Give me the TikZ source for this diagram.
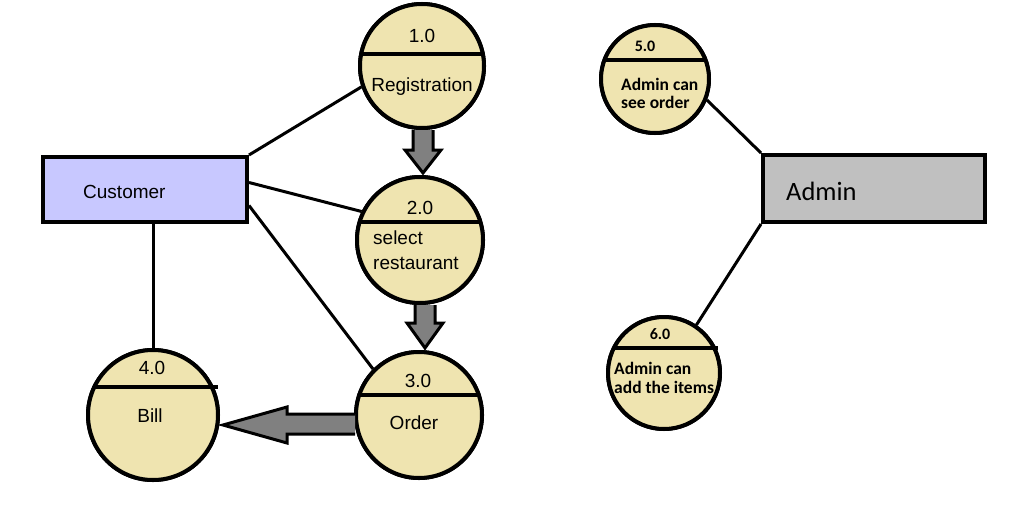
\documentclass[tikz,border=0pt]{standalone}
\usepackage{fontspec}
\setmainfont{Liberation Sans}
\newfontfamily\calib{Carlito}
\usetikzlibrary{calc}
\definecolor{procfill}{RGB}{239,228,176}
\definecolor{custfill}{RGB}{200,200,255}
\definecolor{admfill}{RGB}{192,192,192}
\definecolor{arrfill}{RGB}{128,128,128}
\tikzset{
  proc/.style={circle,draw=black,line width=4pt,fill=procfill,inner sep=0pt},
  ent/.style={draw=black,line width=4pt,inner sep=0pt},
  conn/.style={line width=3pt,draw=black},
  divider/.style={line width=4pt,draw=black},
  blockarrow/.style={fill=arrfill,draw=black,line width=3pt,line join=miter},
  ptxt/.style={font=\fontsize{19}{21}\selectfont,inner sep=0pt},
  stxt/.style={font=\calib\bfseries\fontsize{17.5}{19}\selectfont,inner sep=0pt,anchor=west},
  snum/.style={font=\calib\bfseries\fontsize{16}{18}\selectfont,inner sep=0pt},
}
\begin{document}
\begin{tikzpicture}[x=1pt,y=-1pt]
\useasboundingbox (0,0) rectangle (1017,506);
% entities
\node[ent,fill=custfill,minimum width=204pt,minimum height=65pt] (cust) at (145,189.5) {};
\node[ptxt,anchor=west] (custt) at (83,192) {Customer};
\node[ent,fill=admfill,minimum width=222pt,minimum height=67pt] (adm) at (874,188.5) {};
\node[font=\calib\fontsize{26.5}{29}\selectfont,inner sep=0pt,anchor=west] (admt) at (786,191) {Admin};
% processes
\node[proc,minimum size=124pt] (c1) at (422,66) {};
\node[proc,minimum size=126pt] (c2) at (420,240) {};
\node[proc,minimum size=126pt] (c3) at (419,415) {};
\node[proc,minimum size=130pt] (c4) at (153,415) {};
\node[proc,minimum size=108pt] (c5) at (655,79) {};
\node[proc,minimum size=112pt] (c6) at (664,373) {};
% connectors
\draw[conn] (cust.north east) -- (c1.199);
\draw[conn] ([yshift=7pt]cust.east) -- (c2.154);
\draw[conn] ([yshift=-16pt]cust.east) -- (c3.135);
\draw[conn] (cust.south -| c4.north) -- (c4.north);
\draw[conn] (adm.north west) -- (c5.-22);
\draw[conn] (adm.south west) -- (c6.56);
% redraw circles on top of connectors
\node[proc,minimum size=124pt] at (c1) {};
\node[proc,minimum size=126pt] at (c2) {};
\node[proc,minimum size=126pt] at (c3) {};
\node[proc,minimum size=130pt] at (c4) {};
\node[proc,minimum size=108pt] at (c5) {};
\node[proc,minimum size=112pt] at (c6) {};
% dividers
\draw[divider] ([xshift=-60.8pt,yshift=12pt]c1.center) -- ([xshift=60.8pt,yshift=12pt]c1.center);
\draw[divider] ([xshift=-60.4pt,yshift=18pt]c2.center) -- ([xshift=60.4pt,yshift=18pt]c2.center);
\draw[divider] ([xshift=-59.7pt,yshift=20pt]c3.center) -- ([xshift=59.7pt,yshift=20pt]c3.center);
\draw[divider] ([xshift=-59.5pt,yshift=28pt]c4.center) -- ([xshift=65pt,yshift=28pt]c4.center);
\draw[divider] ([xshift=-50.5pt,yshift=19pt]c5.center) -- ([xshift=50.5pt,yshift=19pt]c5.center);
\draw[divider] ([xshift=-50pt,yshift=25pt]c6.center) -- ([xshift=54pt,yshift=25pt]c6.center);
% block arrows
\draw[blockarrow] let \p1=(c1.south), \p2=(c2.north) in
  (\x1-9pt,\y1) -- (\x1-9pt,\y2+25pt) -- (\x1-17pt,\y2+25pt) -- (\x1+1pt,\y2+2pt)
  -- (\x1+19pt,\y2+25pt) -- (\x1+11pt,\y2+25pt) -- (\x1+11pt,\y1);
\draw[blockarrow] let \p1=(c2.south), \p2=(c3.north) in
  (\x1-5pt,\y1) -- (\x1-5pt,\y2+27pt) -- (\x1-13pt,\y2+27pt) -- (\x1+5pt,\y2+2pt)
  -- (\x1+23pt,\y2+27pt) -- (\x1+15pt,\y2+27pt) -- (\x1+15pt,\y1);
\draw[blockarrow] let \p1=(c3.west), \p2=(c4.east) in
  (\x1+1pt,\y1+1pt) -- (\x2+67pt,\y1+1pt) -- (\x2+67pt,\y1+8pt) -- (\x2+3pt,\y1-10pt)
  -- (\x2+67pt,\y1-28pt) -- (\x2+67pt,\y1-19pt) -- (\x1+1pt,\y1-19pt);
% texts
\node[ptxt] (t1a) at (422,36) {1.0};
\node[ptxt] (t1b) at (422,87) {Registration};
\node[ptxt] (t2a) at (420,208) {2.0};
\node[ptxt,anchor=west] (t2b) at (373,238) {select};
\node[ptxt,anchor=west] (t2c) at (373,263) {restaurant};
\node[ptxt] (t3a) at (418,381) {3.0};
\node[ptxt] (t3b) at (414,423) {Order};
\node[ptxt] (t4a) at (152,368) {4.0};
\node[ptxt] (t4b) at (150,416) {Bill};
\node[snum] (t5a) at (645,46) {5.0};
\node[stxt] (t5b) at (621,84) {Admin can};
\node[stxt] (t5c) at (621,102) {see order};
\node[snum] (t6a) at (660,334) {6.0};
\node[stxt] (t6b) at (614,368) {Admin can};
\node[stxt] (t6c) at (614,387) {add the items};
\end{tikzpicture}
\end{document}
